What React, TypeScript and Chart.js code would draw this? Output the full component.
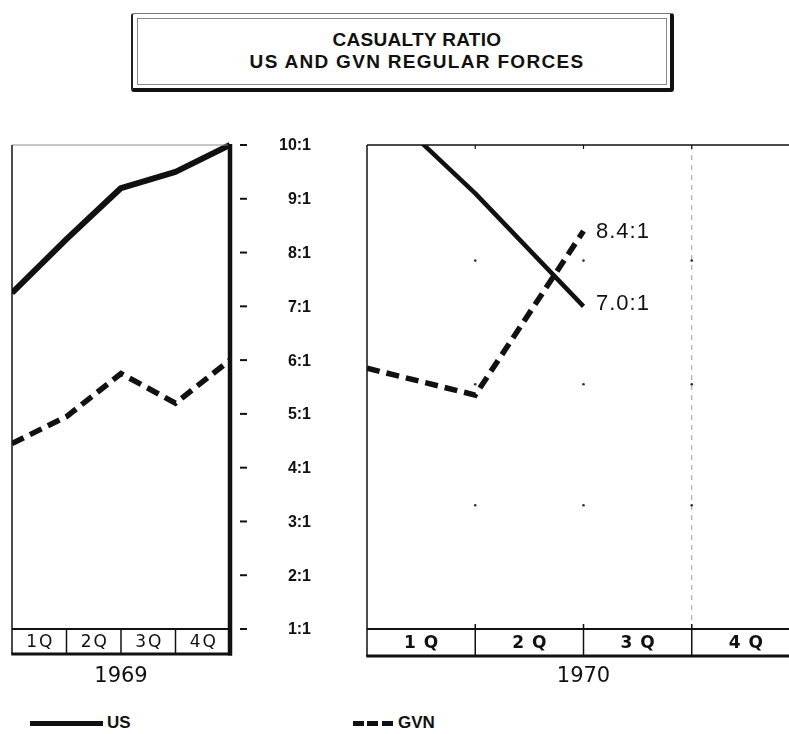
import React, { useEffect, useRef } from 'react';
import { Chart, registerables } from 'chart.js';

Chart.register(...registerables);

// ---------------- data ----------------
const quarterLabels1969 = ['1Q', '2Q', '3Q', '4Q'];
const quarterLabels1970 = ['1 Q', '2 Q', '3 Q', '4 Q'];
const yearLabel1969 = '1969';
const yearLabel1970 = '1970';
const quarterBoundaries = [0, 1, 2, 3, 4];
const usRatio1969 = [7.25, 8.25, 9.2, 9.5, 10.0];
const gvnRatio1969 = [4.45, 4.95, 5.75, 5.2, 6.0];
const quarterPoints1970 = [0, 1, 2];
const usRatio1970 = [11.0, 9.1, 7.0];
const gvnRatio1970 = [5.85, 5.35, 8.4];
const ratioTickValues = [1, 2, 3, 4, 5, 6, 7, 8, 9, 10];
const ratioTickLabels = ['1:1', '2:1', '3:1', '4:1', '5:1', '6:1', '7:1', '8:1', '9:1', '10:1'];
const gridDotRows1970 = [7.85, 5.55, 3.3];
const usEndLabel = '7.0:1';
const gvnEndLabel = '8.4:1';
const titleLines = ['CASUALTY RATIO', 'US AND GVN REGULAR FORCES'];
const legendLabels = ['US', 'GVN'];

const INK = '#111';

function seg(ctx: any, x1: number, y1: number, x2: number, y2: number, w: number, color: string = INK, dash: number[] = []) {
  ctx.save();
  ctx.beginPath();
  ctx.lineWidth = w;
  ctx.strokeStyle = color;
  ctx.setLineDash(dash);
  ctx.moveTo(x1, y1);
  ctx.lineTo(x2, y2);
  ctx.stroke();
  ctx.restore();
}

function spacedText(ctx: any, text: string, x: number, y: number, spacing: number) {
  ctx.save();
  try { ctx.letterSpacing = spacing + 'px'; } catch (e) { /* ignore */ }
  ctx.fillText(text, x + spacing / 2, y);
  ctx.restore();
}

const leftPanelPlugin = {
  id: 'leftPanel',
  afterDatasetsDraw(chart: any) {
    const { ctx, chartArea: a, scales } = chart;
    const xs = scales.x;
    const ys = scales.y;
    const boxBottom = a.bottom + 25;
    seg(ctx, a.left, a.top, a.right, a.top, 1, '#8c8c8c');
    seg(ctx, a.left, a.top, a.left, boxBottom, 1.5);
    seg(ctx, a.left, a.bottom, a.right, a.bottom, 1.8);
    seg(ctx, a.left - 0.75, boxBottom, a.right + 2, boxBottom, 3);
    for (let i = 1; i < quarterBoundaries.length - 1; i++) {
      const px = xs.getPixelForValue(quarterBoundaries[i]);
      seg(ctx, px, a.bottom, px, boxBottom, 1.5);
    }
    seg(ctx, a.right, a.top - 1, a.right, boxBottom + 1.5, 4.5);
    ctx.save();
    ctx.fillStyle = INK;
    ctx.font = '17px "DejaVu Sans"';
    ctx.textAlign = 'center';
    ctx.textBaseline = 'middle';
    for (let i = 0; i < quarterLabels1969.length; i++) {
      const cx = (xs.getPixelForValue(quarterBoundaries[i]) + xs.getPixelForValue(quarterBoundaries[i + 1])) / 2;
      spacedText(ctx, quarterLabels1969[i], cx, a.bottom + 13.5, 2);
    }
    ctx.font = '21px "DejaVu Sans"';
    const mid = (xs.getPixelForValue(quarterBoundaries[0]) + xs.getPixelForValue(quarterBoundaries[quarterBoundaries.length - 1])) / 2;
    ctx.fillText(yearLabel1969, mid, a.bottom + 48);
    ctx.font = 'bold 16px "Liberation Sans"';
    ctx.textAlign = 'right';
    for (let i = 0; i < ratioTickValues.length; i++) {
      const py = ys.getPixelForValue(ratioTickValues[i]);
      seg(ctx, a.right + 10, py, a.right + 17, py, 2);
      ctx.fillText(ratioTickLabels[i], a.right + 81, py + 1);
    }
    ctx.restore();
  },
};

const rightPanelPlugin = {
  id: 'rightPanel',
  beforeDatasetsDraw(chart: any) {
    const { chartArea: a, scales, ctx } = chart;
    const xs = scales.x;
    const ys = scales.y;
    const px = xs.getPixelForValue(quarterBoundaries[3]);
    seg(ctx, px, a.top, px, a.bottom, 1, '#9a9a9a', [5, 5]);
    ctx.save();
    ctx.fillStyle = '#333';
    for (const row of gridDotRows1970) {
      const py = ys.getPixelForValue(row);
      for (let i = 1; i < quarterBoundaries.length - 1; i++) {
        ctx.beginPath();
        ctx.arc(xs.getPixelForValue(quarterBoundaries[i]), py, 1.3, 0, Math.PI * 2);
        ctx.fill();
      }
    }
    ctx.restore();
  },
  afterDatasetsDraw(chart: any) {
    const { ctx, chartArea: a, scales, width } = chart;
    const xs = scales.x;
    const ys = scales.y;
    const boxBottom = a.bottom + 27;
    seg(ctx, a.left, a.top, width, a.top, 1.5);
    seg(ctx, a.left, a.top, a.left, boxBottom, 1.5);
    seg(ctx, a.left, a.bottom, width, a.bottom, 2);
    seg(ctx, a.left - 0.75, boxBottom, width, boxBottom, 3);
    for (let i = 1; i < quarterBoundaries.length - 1; i++) {
      const px = xs.getPixelForValue(quarterBoundaries[i]);
      seg(ctx, px, a.bottom - 5, px, boxBottom, 1.5);
      seg(ctx, px, a.top, px, a.top + 4, 1.2);
    }
    ctx.save();
    ctx.fillStyle = INK;
    ctx.font = 'bold 17px "DejaVu Sans"';
    ctx.textAlign = 'center';
    ctx.textBaseline = 'middle';
    for (let i = 0; i < quarterLabels1970.length; i++) {
      const cx = (xs.getPixelForValue(quarterBoundaries[i]) + xs.getPixelForValue(quarterBoundaries[i + 1])) / 2;
      spacedText(ctx, quarterLabels1970[i], cx, a.bottom + 15, 1);
    }
    ctx.font = '21px "DejaVu Sans"';
    const mid = (xs.getPixelForValue(quarterBoundaries[0]) + xs.getPixelForValue(quarterBoundaries[quarterBoundaries.length - 1])) / 2;
    ctx.fillText(yearLabel1970, mid, a.bottom + 48);
    ctx.font = '22px "Liberation Sans"';
    ctx.textAlign = 'left';
    const lastIdx = quarterPoints1970.length - 1;
    const ex = xs.getPixelForValue(quarterPoints1970[lastIdx]) + 12;
    spacedText(ctx, gvnEndLabel, ex, ys.getPixelForValue(gvnRatio1970[lastIdx]) + 1, 1);
    spacedText(ctx, usEndLabel, ex, ys.getPixelForValue(usRatio1970[lastIdx]) - 2, 1);
    ctx.restore();
  },
};

function makeConfig(xVals: number[], us: number[], gvn: number[], usWidth: number, padding: any, plugin: any, clipTop: number) {
  return {
    type: 'line' as const,
    data: {
      datasets: [
        {
          label: legendLabels[0],
          data: xVals.map((x, i) => ({ x, y: us[i] })),
          borderColor: INK,
          borderWidth: usWidth,
          pointRadius: 0,
          tension: 0,
          borderJoinStyle: 'round' as const,
          clip: { left: 0, right: 0, top: clipTop, bottom: 0 },
        },
        {
          label: legendLabels[1],
          data: xVals.map((x, i) => ({ x, y: gvn[i] })),
          borderColor: INK,
          borderWidth: 5.5,
          borderDash: [13, 7],
          pointRadius: 0,
          tension: 0,
          clip: { left: 0, right: 0, top: clipTop, bottom: 0 },
        },
      ],
    },
    options: {
      responsive: false,
      maintainAspectRatio: false,
      animation: false as const,
      devicePixelRatio: 1,
      events: [],
      layout: { padding },
      plugins: { legend: { display: false }, tooltip: { enabled: false }, title: { display: false } },
      scales: {
        x: { type: 'linear' as const, min: 0, max: 4, display: false },
        y: { type: 'linear' as const, min: 1, max: 10, display: false },
      },
    },
    plugins: [plugin],
  };
}

export default function App() {
  const leftRef = useRef<HTMLCanvasElement | null>(null);
  const rightRef = useRef<HTMLCanvasElement | null>(null);

  useEffect(() => {
    const left = new Chart(
      leftRef.current as HTMLCanvasElement,
      makeConfig(quarterBoundaries, usRatio1969, gvnRatio1969, 6, { left: 12, top: 145, right: 130, bottom: 71 }, leftPanelPlugin, 4) as any
    );
    const right = new Chart(
      rightRef.current as HTMLCanvasElement,
      makeConfig(quarterPoints1970, usRatio1970, gvnRatio1970, 4.5, { left: 7, top: 145, right: 30, bottom: 71 }, rightPanelPlugin, 0) as any
    );
    return () => {
      left.destroy();
      right.destroy();
    };
  }, []);

  const sans = '"Liberation Sans", Arial, sans-serif';

  return (
    <div style={{ position: 'fixed', left: 0, top: 0, width: 789, height: 734, overflow: 'hidden', background: '#fff' }}>
      <div
        style={{
          position: 'absolute', left: 131, top: 13, width: 537, height: 74,
          borderTop: '1px solid #777', borderLeft: '2px solid #222', borderRight: '4px solid #111', borderBottom: '4px solid #111',
          borderRadius: 3,
        }}
      >
        <div style={{ position: 'absolute', left: 4, top: 4, right: 3, bottom: 3, border: '1px solid #888' }} />
      </div>
      <div style={{ position: 'absolute', left: 131, width: 556, top: 30, textAlign: 'center', font: `bold 19px ${sans}`, lineHeight: '20px', letterSpacing: 0.3, color: INK, paddingLeft: 8 }}>
        {titleLines[0]}
      </div>
      <div style={{ position: 'absolute', left: 131, width: 556, top: 52, textAlign: 'center', font: `bold 19px ${sans}`, lineHeight: '20px', letterSpacing: 1.3, color: INK, paddingLeft: 8 }}>
        {titleLines[1]}
      </div>

      <canvas ref={leftRef} width={360} height={700} style={{ position: 'absolute', left: 0, top: 0, width: 360, height: 700 }} />
      <canvas ref={rightRef} width={470} height={700} style={{ position: 'absolute', left: 360, top: 0, width: 470, height: 700 }} />

      <div style={{ position: 'absolute', left: 30, top: 721, width: 73, height: 5, background: INK }} />
      <div style={{ position: 'absolute', left: 107, top: 714, font: `bold 17px ${sans}`, lineHeight: '18px', color: INK }}>{legendLabels[0]}</div>
      <div
        style={{
          position: 'absolute', left: 353, top: 721, width: 40, height: 5,
          background: `repeating-linear-gradient(to right, ${INK} 0px, ${INK} 11px, transparent 11px, transparent 14.5px)`,
        }}
      />
      <div style={{ position: 'absolute', left: 398, top: 714, font: `bold 17px ${sans}`, lineHeight: '18px', color: INK }}>{legendLabels[1]}</div>
    </div>
  );
}
